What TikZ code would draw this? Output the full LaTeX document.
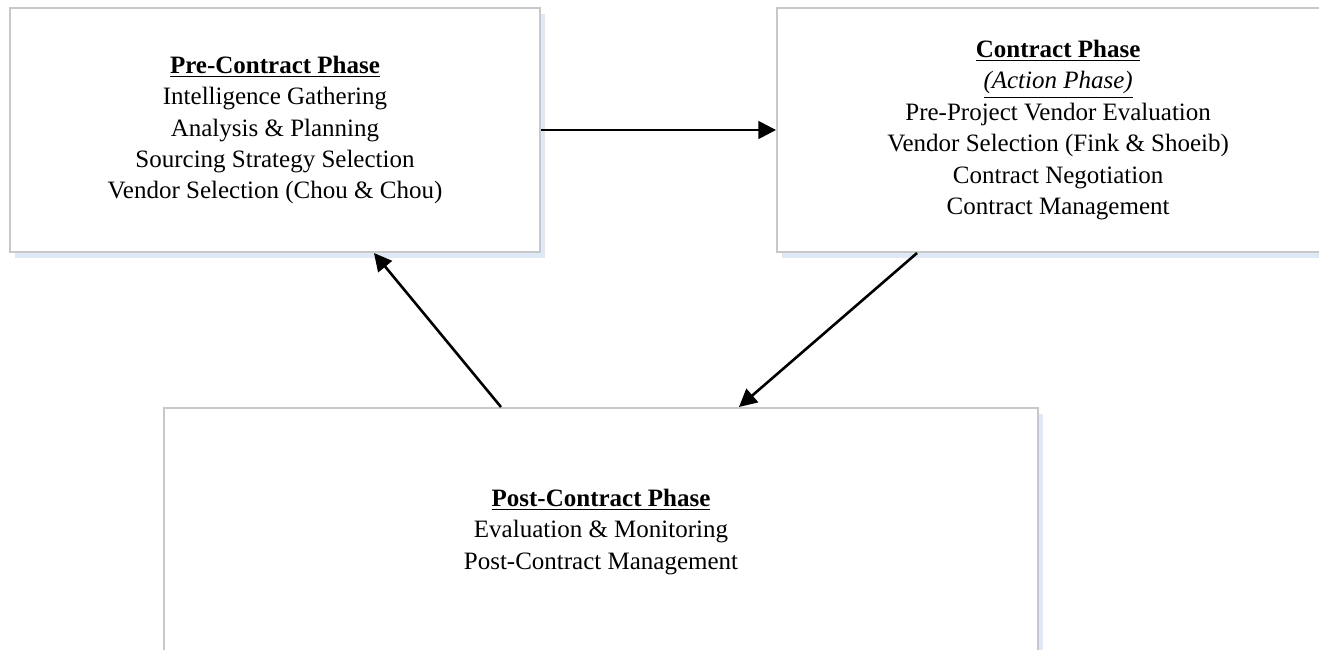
\documentclass[tikz,border=0pt]{standalone}
\usepackage{fontspec}
\setmainfont{Liberation Serif}
\usepackage{tikz}
\usetikzlibrary{arrows.meta, positioning, calc, shadows}
\definecolor{boxgray}{RGB}{200,200,200}
\definecolor{shadowblue}{RGB}{222,232,246}
\tikzstyle{phase} = [rectangle, draw=boxgray, line width=1pt, fill=white, align=center, text centered, font=\fontsize{12}{15.1}\selectfont, drop shadow={shadow xshift=2.5pt, shadow yshift=-3pt, fill=shadowblue, opacity=1}]
\tikzstyle{arrow} = [line width=1.25pt, -{Triangle[length=8.5pt, width=8.5pt]}]

\begin{document}
\begin{tikzpicture}[x=0.48pt, y=-0.48pt]
        \useasboundingbox (0,0) rectangle (1319,650);
        \clip (0,0) rectangle (1319,650);

        % Pre-Contract box
        \node[phase, minimum width=254.4pt, minimum height=117.1pt] (pre) at (275,130)
            {\underline{\textbf{Pre-Contract Phase}}\\
             Intelligence Gathering\\
             Analysis \& Planning\\
             Sourcing Strategy Selection\\
             Vendor Selection (Chou \& Chou)};

        % Contract box
        \node[phase, minimum width=269.8pt, minimum height=117.1pt, right=112.8pt of pre] (contract)
            {\underline{\textbf{Contract Phase}}\\
             \underline{\textit{(Action Phase)}}\\
             Pre-Project Vendor Evaluation\\
             Vendor Selection (Fink \& Shoeib)\\
             Contract Negotiation\\
             Contract Management};

        % Post-Contract box
        \node[phase, minimum width=419.5pt, minimum height=119pt] (post) at (601,532)
            {\underline{\textbf{Post-Contract Phase}}\\
             Evaluation \& Monitoring\\
             Post-Contract Management};

        % cycle arrows
        \draw[arrow] (pre.east) -- (contract.west);
        \draw[arrow] ($(contract.south west)+(141,0)$) -- ($(post.north west)+(576,0)$);
        \draw[arrow] ($(post.north west)+(338,0)$) -- ($(pre.south west)+(365,0)$);
    \end{tikzpicture}
\end{document}
